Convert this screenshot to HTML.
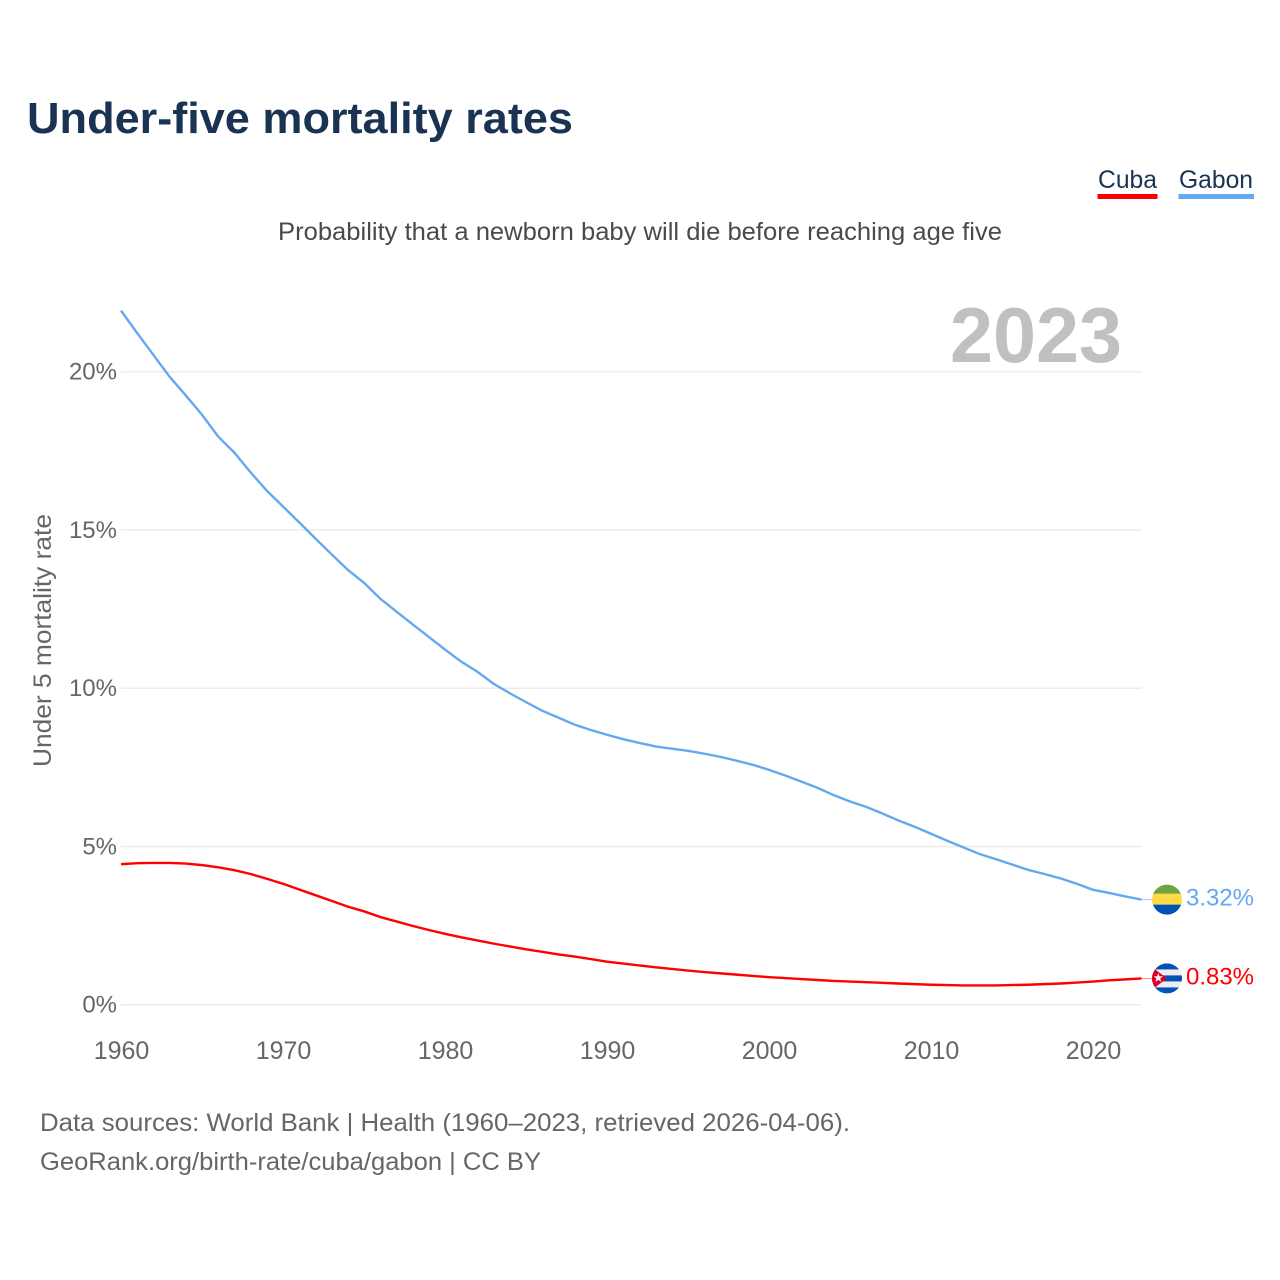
<!DOCTYPE html>
<html lang="en">
<head>
<meta charset="utf-8">
<title>Under-five mortality rates</title>
<style>
html,body{margin:0;padding:0;background:#fff;}
svg{display:block;}
text{font-family:"Liberation Sans",sans-serif;}
</style>
</head>
<body>
<svg id="chart" xmlns="http://www.w3.org/2000/svg" width="1280" height="1280" viewBox="0 0 1280 1280">
  <defs>
    <clipPath id="clip-gabon-flag"><circle id="clip-gabon-circle" r="15" cx="1167" cy="899"></circle></clipPath>
    <clipPath id="clip-cuba-flag"><circle id="clip-cuba-circle" r="15" cx="1167" cy="978"></circle></clipPath>
  </defs>
  <text x="27" y="133" font-size="44" font-weight="700" fill="#1a3353" textLength="546" lengthAdjust="spacingAndGlyphs">Under-five mortality rates</text>
  <text x="278" y="240" font-size="25" fill="#4a4a4a" textLength="724" lengthAdjust="spacingAndGlyphs">Probability that a newborn baby will die before reaching age five</text>

  <g>
    <text x="1098" y="188" font-size="25" fill="#1a3353" textLength="59" lengthAdjust="spacingAndGlyphs">Cuba</text>
    <rect x="1097.5" y="194" width="60" height="5" fill="#ff0000"></rect>
    <text x="1179" y="188" font-size="25" fill="#1a3353" textLength="74" lengthAdjust="spacingAndGlyphs">Gabon</text>
    <rect x="1178.5" y="194" width="75.5" height="5" fill="#64a8ef"></rect>
  </g>

  <text x="950" y="362" font-size="78" font-weight="700" fill="#c0c0c0" textLength="172" lengthAdjust="spacingAndGlyphs">2023</text>
  <text transform="translate(51,767) rotate(-90)" font-size="25" fill="#666666" textLength="253" lengthAdjust="spacingAndGlyphs">Under 5 mortality rate</text>

  <g id="grid"></g>
  <g id="y-ticks"></g>
  <g id="x-ticks"></g>
  <g id="series"></g>

  <g id="flag-gabon" clip-path="url(#clip-gabon-flag)">
    <rect id="gabon-green" x="1152" width="30" height="10" fill="#6da544"></rect>
    <rect id="gabon-yellow" x="1152" width="30" height="11" fill="#ffda44"></rect>
    <rect id="gabon-blue" x="1152" width="30" height="11" fill="#0052b4"></rect>
  </g>
  <g id="flag-cuba" clip-path="url(#clip-cuba-flag)"></g>

  <text x="40" y="1131" font-size="25" fill="#666666" textLength="810" lengthAdjust="spacingAndGlyphs">Data sources: World Bank | Health (1960–2023, retrieved 2026-04-06).</text>
  <text x="40" y="1170" font-size="25" fill="#666666" textLength="501" lengthAdjust="spacingAndGlyphs">GeoRank.org/birth-rate/cuba/gabon | CC BY</text>
</svg>
<script>
const years = [1960,1961,1962,1963,1964,1965,1966,1967,1968,1969,1970,1971,1972,1973,1974,1975,1976,1977,1978,1979,1980,1981,1982,1983,1984,1985,1986,1987,1988,1989,1990,1991,1992,1993,1994,1995,1996,1997,1998,1999,2000,2001,2002,2003,2004,2005,2006,2007,2008,2009,2010,2011,2012,2013,2014,2015,2016,2017,2018,2019,2020,2021,2022,2023];
const gabonValues = [21.93,21.22,20.53,19.84,19.25,18.64,17.95,17.44,16.82,16.24,15.74,15.24,14.73,14.23,13.74,13.33,12.83,12.42,12.02,11.62,11.22,10.84,10.52,10.14,9.84,9.56,9.29,9.07,8.85,8.68,8.53,8.39,8.27,8.16,8.09,8.02,7.93,7.83,7.71,7.58,7.42,7.24,7.05,6.85,6.62,6.42,6.25,6.04,5.82,5.62,5.40,5.18,4.97,4.76,4.60,4.43,4.26,4.13,3.99,3.82,3.63,3.53,3.42,3.32];
const cubaValues = [4.44,4.47,4.48,4.48,4.46,4.41,4.34,4.25,4.13,3.98,3.82,3.64,3.46,3.28,3.10,2.95,2.77,2.63,2.49,2.36,2.24,2.13,2.03,1.93,1.84,1.75,1.67,1.59,1.52,1.44,1.36,1.30,1.24,1.18,1.13,1.08,1.03,0.99,0.95,0.91,0.87,0.84,0.81,0.78,0.75,0.73,0.71,0.69,0.67,0.65,0.63,0.62,0.61,0.61,0.61,0.62,0.63,0.65,0.67,0.70,0.73,0.77,0.80,0.83];
const yTickValues = [0,5,10,15,20];
const xTickValues = [1960,1970,1980,1990,2000,2010,2020];

const NS = 'http://www.w3.org/2000/svg';
const xScale = function (year) { return 121 + (year - 1960) * 16.2; };
const yScale = function (value) { return 1004.7 - value * 31.65; };
const gridLayer = document.getElementById('grid');
const yLayer = document.getElementById('y-ticks');
const xLayer = document.getElementById('x-ticks');
const seriesLayer = document.getElementById('series');
const chartRoot = document.getElementById('chart');

yTickValues.forEach(function (v) {
  const line = document.createElementNS(NS, 'line');
  
  
  line.setAttribute('x1', xScale(1960));
  line.setAttribute('x2', xScale(2023));
  line.setAttribute('y1', yScale(v));
  line.setAttribute('y2', yScale(v));
  line.setAttribute('stroke', '#ececec');
  line.setAttribute('stroke-width', '1.5');
  gridLayer.appendChild(line);

  const label = document.createElementNS(NS, 'text');
  
  
  label.setAttribute('x', 117);
  label.setAttribute('y', yScale(v) + 8);
  label.setAttribute('text-anchor', 'end');
  label.setAttribute('font-size', '24');
  label.setAttribute('fill', '#666666');
  label.textContent = v + '%';
  yLayer.appendChild(label);
});

xTickValues.forEach(function (year) {
  const label = document.createElementNS(NS, 'text');
  
  
  label.setAttribute('x', xScale(year) + 0.5);
  label.setAttribute('y', 1059);
  label.setAttribute('text-anchor', 'middle');
  label.setAttribute('font-size', '25');
  label.setAttribute('fill', '#666666');
  label.textContent = String(year);
  xLayer.appendChild(label);
});

function pathFor(values) {
  return values.map(function (v, i) {
    return (i ? 'L' : 'M') + xScale(years[i]).toFixed(2) + ' ' + yScale(v).toFixed(2);
  }).join(' ');
}

const gabonLine = document.createElementNS(NS, 'path');


gabonLine.setAttribute('d', pathFor(gabonValues));
gabonLine.setAttribute('fill', 'none');
gabonLine.setAttribute('stroke', '#64a8ef');
gabonLine.setAttribute('stroke-width', '2.4');
seriesLayer.appendChild(gabonLine);

const cubaLine = document.createElementNS(NS, 'path');


cubaLine.setAttribute('d', pathFor(cubaValues));
cubaLine.setAttribute('fill', 'none');
cubaLine.setAttribute('stroke', '#ff0000');
cubaLine.setAttribute('stroke-width', '2.4');
seriesLayer.appendChild(cubaLine);

const lastYear = years[years.length - 1];
const gabonLast = gabonValues[gabonValues.length - 1];
const cubaLast = cubaValues[cubaValues.length - 1];
const gabonEndY = yScale(gabonLast);
const cubaEndY = yScale(cubaLast);

const gabonConnector = document.createElementNS(NS, 'line');


gabonConnector.setAttribute('x1', xScale(lastYear));
gabonConnector.setAttribute('x2', 1152);
gabonConnector.setAttribute('y1', gabonEndY);
gabonConnector.setAttribute('y2', gabonEndY);
gabonConnector.setAttribute('stroke', '#a8cdf5');
gabonConnector.setAttribute('stroke-width', '1');
seriesLayer.appendChild(gabonConnector);

const cubaConnector = document.createElementNS(NS, 'line');


cubaConnector.setAttribute('x1', xScale(lastYear));
cubaConnector.setAttribute('x2', 1152);
cubaConnector.setAttribute('y1', cubaEndY);
cubaConnector.setAttribute('y2', cubaEndY);
cubaConnector.setAttribute('stroke', '#ff8888');
cubaConnector.setAttribute('stroke-width', '1');
seriesLayer.appendChild(cubaConnector);

const gabonLabel = document.createElementNS(NS, 'text');


gabonLabel.setAttribute('x', 1186);
gabonLabel.setAttribute('y', gabonEndY + 6);
gabonLabel.setAttribute('font-size', '24');
gabonLabel.setAttribute('fill', '#64a8ef');
gabonLabel.setAttribute('textLength', '68');
gabonLabel.setAttribute('lengthAdjust', 'spacingAndGlyphs');
gabonLabel.textContent = gabonLast.toFixed(2) + '%';
chartRoot.appendChild(gabonLabel);

const cubaLabel = document.createElementNS(NS, 'text');


cubaLabel.setAttribute('x', 1186);
cubaLabel.setAttribute('y', cubaEndY + 6);
cubaLabel.setAttribute('font-size', '24');
cubaLabel.setAttribute('fill', '#ff0000');
cubaLabel.setAttribute('textLength', '68');
cubaLabel.setAttribute('lengthAdjust', 'spacingAndGlyphs');
cubaLabel.textContent = cubaLast.toFixed(2) + '%';
chartRoot.appendChild(cubaLabel);

/* Gabon flag follows the last data value */
document.getElementById('clip-gabon-circle').setAttribute('cy', gabonEndY);
document.getElementById('gabon-green').setAttribute('y', gabonEndY - 15);
document.getElementById('gabon-yellow').setAttribute('y', gabonEndY - 6);
document.getElementById('gabon-blue').setAttribute('y', gabonEndY + 5);

/* Cuba flag follows the last data value */
document.getElementById('clip-cuba-circle').setAttribute('cy', cubaEndY);
const cubaFlag = document.getElementById('flag-cuba');
const cubaBase = document.createElementNS(NS, 'rect');


cubaBase.setAttribute('x', 1152);
cubaBase.setAttribute('y', cubaEndY - 15);
cubaBase.setAttribute('width', 30);
cubaBase.setAttribute('height', 30);
cubaBase.setAttribute('fill', '#eeeeee');
cubaFlag.appendChild(cubaBase);

[-15, -3, 9].forEach(function (offset) {
  const stripe = document.createElementNS(NS, 'rect');
  
  
  stripe.setAttribute('x', 1152);
  stripe.setAttribute('y', cubaEndY + offset);
  stripe.setAttribute('width', 30);
  stripe.setAttribute('height', 6);
  stripe.setAttribute('fill', '#0052b4');
  cubaFlag.appendChild(stripe);
});

const cubaTriangle = document.createElementNS(NS, 'polygon');


cubaTriangle.setAttribute('points', '1151,' + (cubaEndY - 12) + ' 1167,' + cubaEndY + ' 1151,' + (cubaEndY + 12));
cubaTriangle.setAttribute('fill', '#d80027');
cubaFlag.appendChild(cubaTriangle);

const cubaStar = document.createElementNS(NS, 'polygon');


const starPoints = [];
for (let i = 0; i < 10; i++) {
  const radius = i % 2 ? 2 : 5;
  const angle = -Math.PI / 2 + i * Math.PI / 5;
  starPoints.push((1158.3 + radius * Math.cos(angle)).toFixed(2) + ',' + (cubaEndY - 0.5 + radius * Math.sin(angle)).toFixed(2));
}
cubaStar.setAttribute('points', starPoints.join(' '));
cubaStar.setAttribute('fill', '#f0f0f0');
cubaFlag.appendChild(cubaStar);
</script>
</body>
</html>
